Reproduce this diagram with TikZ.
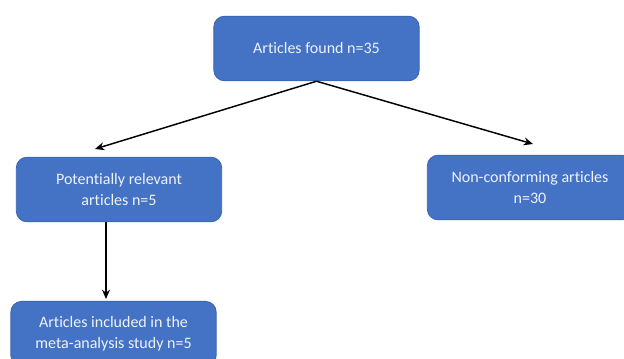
\documentclass[tikz,border=0pt]{standalone}
\usepackage{fontspec}
\setmainfont[Ligatures=NoCommon]{Carlito}
\usepackage{xcolor}
\usetikzlibrary{arrows.meta, calc, positioning}

\definecolor{boxblue}{HTML}{4472C4}
\definecolor{boxedge}{HTML}{3A64B0}
\definecolor{boxtext}{HTML}{EEF2FA}

\begin{document}
\begin{tikzpicture}[x=0.75pt,y=-0.75pt,>={Stealth[length=7pt,width=6pt]},
  flowbox/.style={draw=boxedge,fill=boxblue,rounded corners=8pt,line width=0.6pt,
    minimum width=154pt,minimum height=48.5pt,text=boxtext,align=center,
    font=\fontsize{12}{16}\selectfont},
  link/.style={->,line width=1.1pt,black}]
  \useasboundingbox (0,0) rectangle (624,359);
  % ---- boxes ----
  \node[flowbox] (found) at (316.5,48.5) {Articles found n=35};
  \node[flowbox] (relevant) at (119,189.5) {Potentially relevant\\articles n=5};
  \node[flowbox] (nonconf) at (530,187.5) {Non-conforming articles\\n=30};
  \node[flowbox,anchor=north] (included) at (113.5,301) {Articles included in the\\meta-analysis study n=5};
  % ---- connectors ----
  \coordinate (tipL) at (95,149);
  \coordinate (tipR) at (533,144);
  \coordinate (vx) at (106,0);
  \draw[link] (found.south) -- (tipL);
  \draw[link] (found.south) -- (tipR);
  \draw[link] (relevant.south -| vx) -- ($(included.north -| vx)+(0,-2)$);
\end{tikzpicture}
\end{document}
